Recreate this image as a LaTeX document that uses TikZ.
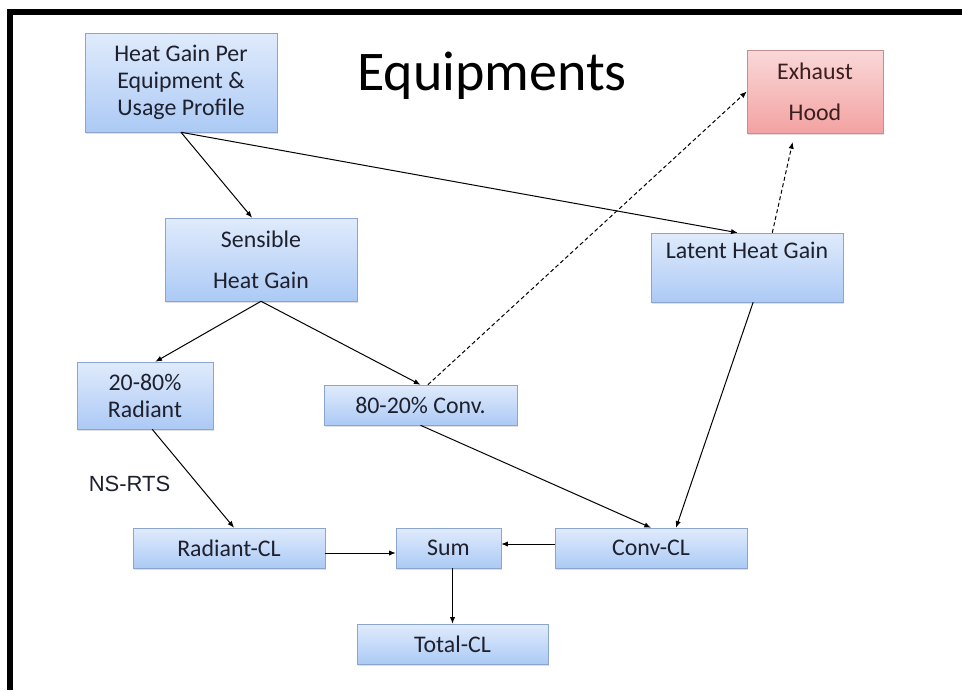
\documentclass[tikz,border=0pt]{standalone}
\usepackage{fontspec}
\setmainfont{Carlito}
\newfontfamily\arialfont{Liberation Sans}
\usetikzlibrary{arrows.meta,shadows}
\definecolor{boxtop}{RGB}{224,235,252}
\definecolor{boxbot}{RGB}{172,202,245}
\definecolor{boxline}{RGB}{140,165,205}
\definecolor{hoodtop}{RGB}{250,216,216}
\definecolor{hoodbot}{RGB}{243,162,162}
\definecolor{hoodline}{RGB}{200,140,140}
\definecolor{ink}{RGB}{30,32,45}
\definecolor{hoodink}{RGB}{60,30,30}
\begin{document}
\begin{tikzpicture}[x=0.75pt,y=-0.75pt,
    blockbox/.style={draw=boxline, top color=boxtop, bottom color=boxbot, inner sep=0pt,
        align=center, text=ink, font=\fontsize{17.9}{20.25}\selectfont,
        drop shadow={opacity=0.25, shadow xshift=0.8pt, shadow yshift=-1.2pt},
        minimum width=144pt, minimum height=30pt},
    hoodbox/.style={blockbox, draw=hoodline, top color=hoodtop, bottom color=hoodbot, text=hoodink},
    flow/.style={draw=black, -{Latex[length=5pt,width=4pt]}, line width=0.75pt},
    vent/.style={flow, dash pattern=on 3pt off 2pt}]
    \useasboundingbox (0,0) rectangle (962,690);
    \draw[line width=4.5pt] (10,690) -- (10,12) -- (962,12);

    \node[font=\fontsize{42}{48}\selectfont, anchor=base] (title) at (492,90) {Equipments};
    \node[blockbox, minimum height=74.25pt] (heat) at (181,82.5) {Heat Gain Per\\Equipment \&\\Usage Profile};
    \node[hoodbox, minimum width=102pt, minimum height=62.25pt] (hood) at (815,91.5) {Exhaust\\[10.5pt]Hood};
    \node[blockbox, minimum height=62.25pt] (sens) at (261,259.5) {Sensible\\[10.5pt]Heat Gain};
    \node[blockbox, minimum height=51.75pt, text height=12pt, text depth=25pt] (latent) at (747,267.5) {Latent Heat Gain};
    \node[blockbox, minimum width=102pt, minimum height=50.25pt] (rad) at (145,395.5) {20-80\%\\Radiant};
    \node[blockbox, minimum width=144.75pt] (conv) at (420.5,405) {80-20\% Conv.};
    \node[font=\arialfont\fontsize{16.5}{19}\selectfont, anchor=base, text=ink] (nsrts) at (129.5,491) {NS-RTS};
    \node[blockbox] (radcl) at (229,548) {Radiant-CL};
    \node[blockbox, minimum width=78.75pt] (sum) at (448.5,548) {Sum};
    \node[blockbox] (convcl) at (651,548) {Conv-CL};
    \node[blockbox, minimum width=143.25pt] (total) at (452.5,644) {Total-CL};

    \foreach \a/\b in {heat.south/sens.102, heat.south/latent.105, sens.south/rad.73,
        sens.south/conv.north, rad.-78/radcl.76, conv.south/convcl.north, latent.-80/convcl.39}
        \draw[flow] (\a) to (\b);
    \draw[flow] ([yshift=-3.75pt]radcl.east) -- ([yshift=-3.75pt]sum.west);
    \draw[flow] ([yshift=3pt]convcl.west) -- ([yshift=3pt]sum.east);
    \draw[flow] (total.north |- sum.south) -- (total.north);

    \draw[vent] (conv.70) -- (hood.west);
    \draw[vent, shorten >=6.75pt] (latent.54) -- (hood.-116);
\end{tikzpicture}
\end{document}
